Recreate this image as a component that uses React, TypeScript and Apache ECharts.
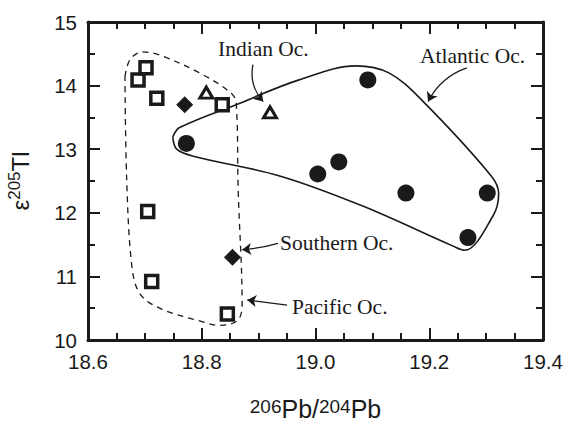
import React, { useEffect, useRef } from "react";
import * as echarts from "echarts";

// Data (206Pb/204Pb, ε205Tl)
const pacific: number[][] = [
  [18.688, 14.09], [18.702, 14.28], [18.721, 13.8], [18.836, 13.7],
  [18.705, 12.02], [18.712, 10.92], [18.845, 10.41],
];
const southern: number[][] = [[18.77, 13.7], [18.854, 11.3]];
const indian: number[][] = [[18.808, 13.89], [18.92, 13.58]];
const atlantic: number[][] = [
  [18.773, 13.09], [19.092, 14.09], [19.041, 12.8], [19.004, 12.61],
  [19.159, 12.31], [19.302, 12.31], [19.268, 11.61],
];
// Field envelopes
const atlanticField: number[][] = [
  [18.749, 13.19], [18.761, 13.34], [18.866, 13.72], [18.971, 14.09],
  [19.071, 14.31], [19.129, 14.2], [19.186, 13.78], [19.309, 12.58],
  [19.322, 12.3], [19.312, 11.95], [19.262, 11.41], [19.241, 11.48],
  [19.082, 12.11], [18.937, 12.58], [18.785, 12.89], [18.756, 13.0],
  [18.749, 13.19],
];
const pacificField: number[][] = [
  [18.665, 14.14], [18.674, 14.41], [18.696, 14.53], [18.726, 14.48],
  [18.796, 14.2], [18.854, 13.86], [18.861, 13.67], [18.864, 12.375],
  [18.871, 10.55], [18.863, 10.31], [18.831, 10.23], [18.796, 10.3],
  [18.726, 10.5], [18.691, 10.73], [18.677, 11.17], [18.668, 12.53],
  [18.665, 14.14],
];
const xTicks = ["18.6", "18.8", "19.0", "19.2", "19.4"];
const yTicks = ["10", "11", "12", "13", "14", "15"];
const labels = [
  { text: "Indian Oc.", from: [18.89, 14.33], to: [18.908, 13.75], curve: -0.25 },
  { text: "Atlantic Oc.", from: [19.266, 14.28], to: [19.198, 13.75], curve: -0.2 },
  { text: "Southern Oc.", from: [18.934, 11.52], to: [18.871, 11.42], curve: 0.05 },
  { text: "Pacific Oc.", from: [18.95, 10.55], to: [18.88, 10.63], curve: 0.0 },
];
const labelPos = [
  [218, 49],
  [420, 56],
  [280, 243],
  [292, 307],
];

const INK = "#1a1a1a";
const SANS = '"Liberation Sans", Arial, Helvetica, sans-serif';
const SERIF = '"Liberation Serif", "Times New Roman", serif';

export default function App() {
  const ref = useRef<HTMLDivElement>(null);
  useEffect(() => {
    if (!ref.current) return;
    const chart = echarts.init(ref.current, null, { renderer: "svg" });
    const baseAxis = {
      type: "value" as const,
      axisLine: { show: true, onZero: false, lineStyle: { color: INK, width: 3 } },
      axisTick: { show: true, inside: true, length: 12, lineStyle: { color: INK, width: 2 } },
      minorTick: { show: true, length: 7, lineStyle: { color: INK, width: 2 } },
      splitLine: { show: false },
    };
    const richX = {
      b: { fontSize: 25, fontFamily: SANS, color: INK, lineHeight: 24 },
      s: { fontSize: 19, fontFamily: SANS, color: INK, lineHeight: 15, verticalAlign: "top" as const },
    };
    const richY = {
      b: { fontSize: 24, fontFamily: SANS, color: INK, lineHeight: 28 },
      s: { fontSize: 17, fontFamily: SANS, color: INK, lineHeight: 28, verticalAlign: "top" as const },
    };
    chart.setOption({
      animation: false,
      backgroundColor: "#fff",
      grid: { left: 88, right: 23, top: 22, bottom: 82, containLabel: false, outerBoundsMode: "none" },
      xAxis: [
        {
          ...baseAxis,
          min: 18.6,
          max: 19.4,
          interval: 0.2,
          minorTick: { ...baseAxis.minorTick, splitNumber: 4 },
          axisLabel: {
            margin: 11,
            fontSize: 20.5,
            fontFamily: SANS,
            color: INK,
            formatter: (v: number) => xTicks.find((t) => Math.abs(parseFloat(t) - v) < 1e-6) ?? "",
          },
          name: "{s|206}{b|Pb/}{s|204}{b|Pb}",
          nameLocation: "middle",
          nameGap: 57,
          nameTextStyle: { rich: richX },
        },
        {
          ...baseAxis,
          position: "top",
          min: 18.6,
          max: 19.4,
          interval: 0.2,
          minorTick: { ...baseAxis.minorTick, splitNumber: 4 },
          axisLabel: { show: false },
        },
      ],
      yAxis: [
        {
          ...baseAxis,
          min: 10,
          max: 15,
          interval: 1,
          minorTick: { ...baseAxis.minorTick, splitNumber: 2 },
          axisLabel: {
            margin: 11,
            fontSize: 20.5,
            fontFamily: SANS,
            color: INK,
            formatter: (v: number) => yTicks.find((t) => Math.abs(parseFloat(t) - v) < 1e-6) ?? "",
          },
          name: "{b|ε}{s|205}{b|Tl}",
          nameLocation: "middle",
          nameRotate: 90,
          nameGap: 54,
          nameTextStyle: { rich: richY },
        },
        {
          ...baseAxis,
          position: "right",
          min: 10,
          max: 15,
          interval: 1,
          minorTick: { ...baseAxis.minorTick, splitNumber: 2 },
          axisLabel: { show: false },
        },
      ],
      series: [
        {
          type: "line",
          data: pacificField,
          smooth: 0.35,
          showSymbol: false,
          symbol: "none",
          lineStyle: { color: INK, width: 1.3, type: [6, 5] },
          z: 1,
        },
        {
          type: "line",
          data: atlanticField,
          smooth: 0.35,
          showSymbol: false,
          symbol: "none",
          lineStyle: { color: INK, width: 1.6 },
          z: 1,
        },
        {
          type: "lines",
          coordinateSystem: "cartesian2d",
          symbol: ["none", "arrow"],
          symbolSize: 9,
          lineStyle: { color: INK, width: 1.3, opacity: 1 },
          data: labels.map((l) => ({ coords: [l.from, l.to], lineStyle: { curveness: l.curve } })),
          z: 2,
        },
        {
          type: "scatter",
          data: atlantic,
          symbol: "circle",
          symbolSize: 17,
          itemStyle: { color: INK, opacity: 1 },
          z: 3,
        },
        {
          type: "scatter",
          data: pacific,
          symbol: "rect",
          symbolSize: 12,
          itemStyle: { color: "#fff", borderColor: INK, borderWidth: 3.5, opacity: 1 },
          z: 3,
        },
        {
          type: "scatter",
          data: southern,
          symbol: "diamond",
          symbolSize: 17,
          itemStyle: { color: INK, opacity: 1 },
          z: 3,
        },
        {
          type: "scatter",
          data: indian,
          symbol: "triangle",
          symbolSize: [13, 11],
          itemStyle: { color: "#fff", borderColor: INK, borderWidth: 3, opacity: 1 },
          z: 3,
        },
      ],
      graphic: labels.map((l, i) => ({
        type: "text",
        x: labelPos[i][0],
        y: labelPos[i][1],
        style: {
          text: l.text,
          fontSize: 21.5,
          fontFamily: SERIF,
          fill: INK,
          align: "left",
          verticalAlign: "middle",
        },
        z: 10,
      })),
    });
    return () => chart.dispose();
  }, []);
  return <div ref={ref} style={{ width: 566, height: 422, position: "absolute", left: 0, top: 0 }} />;
}
